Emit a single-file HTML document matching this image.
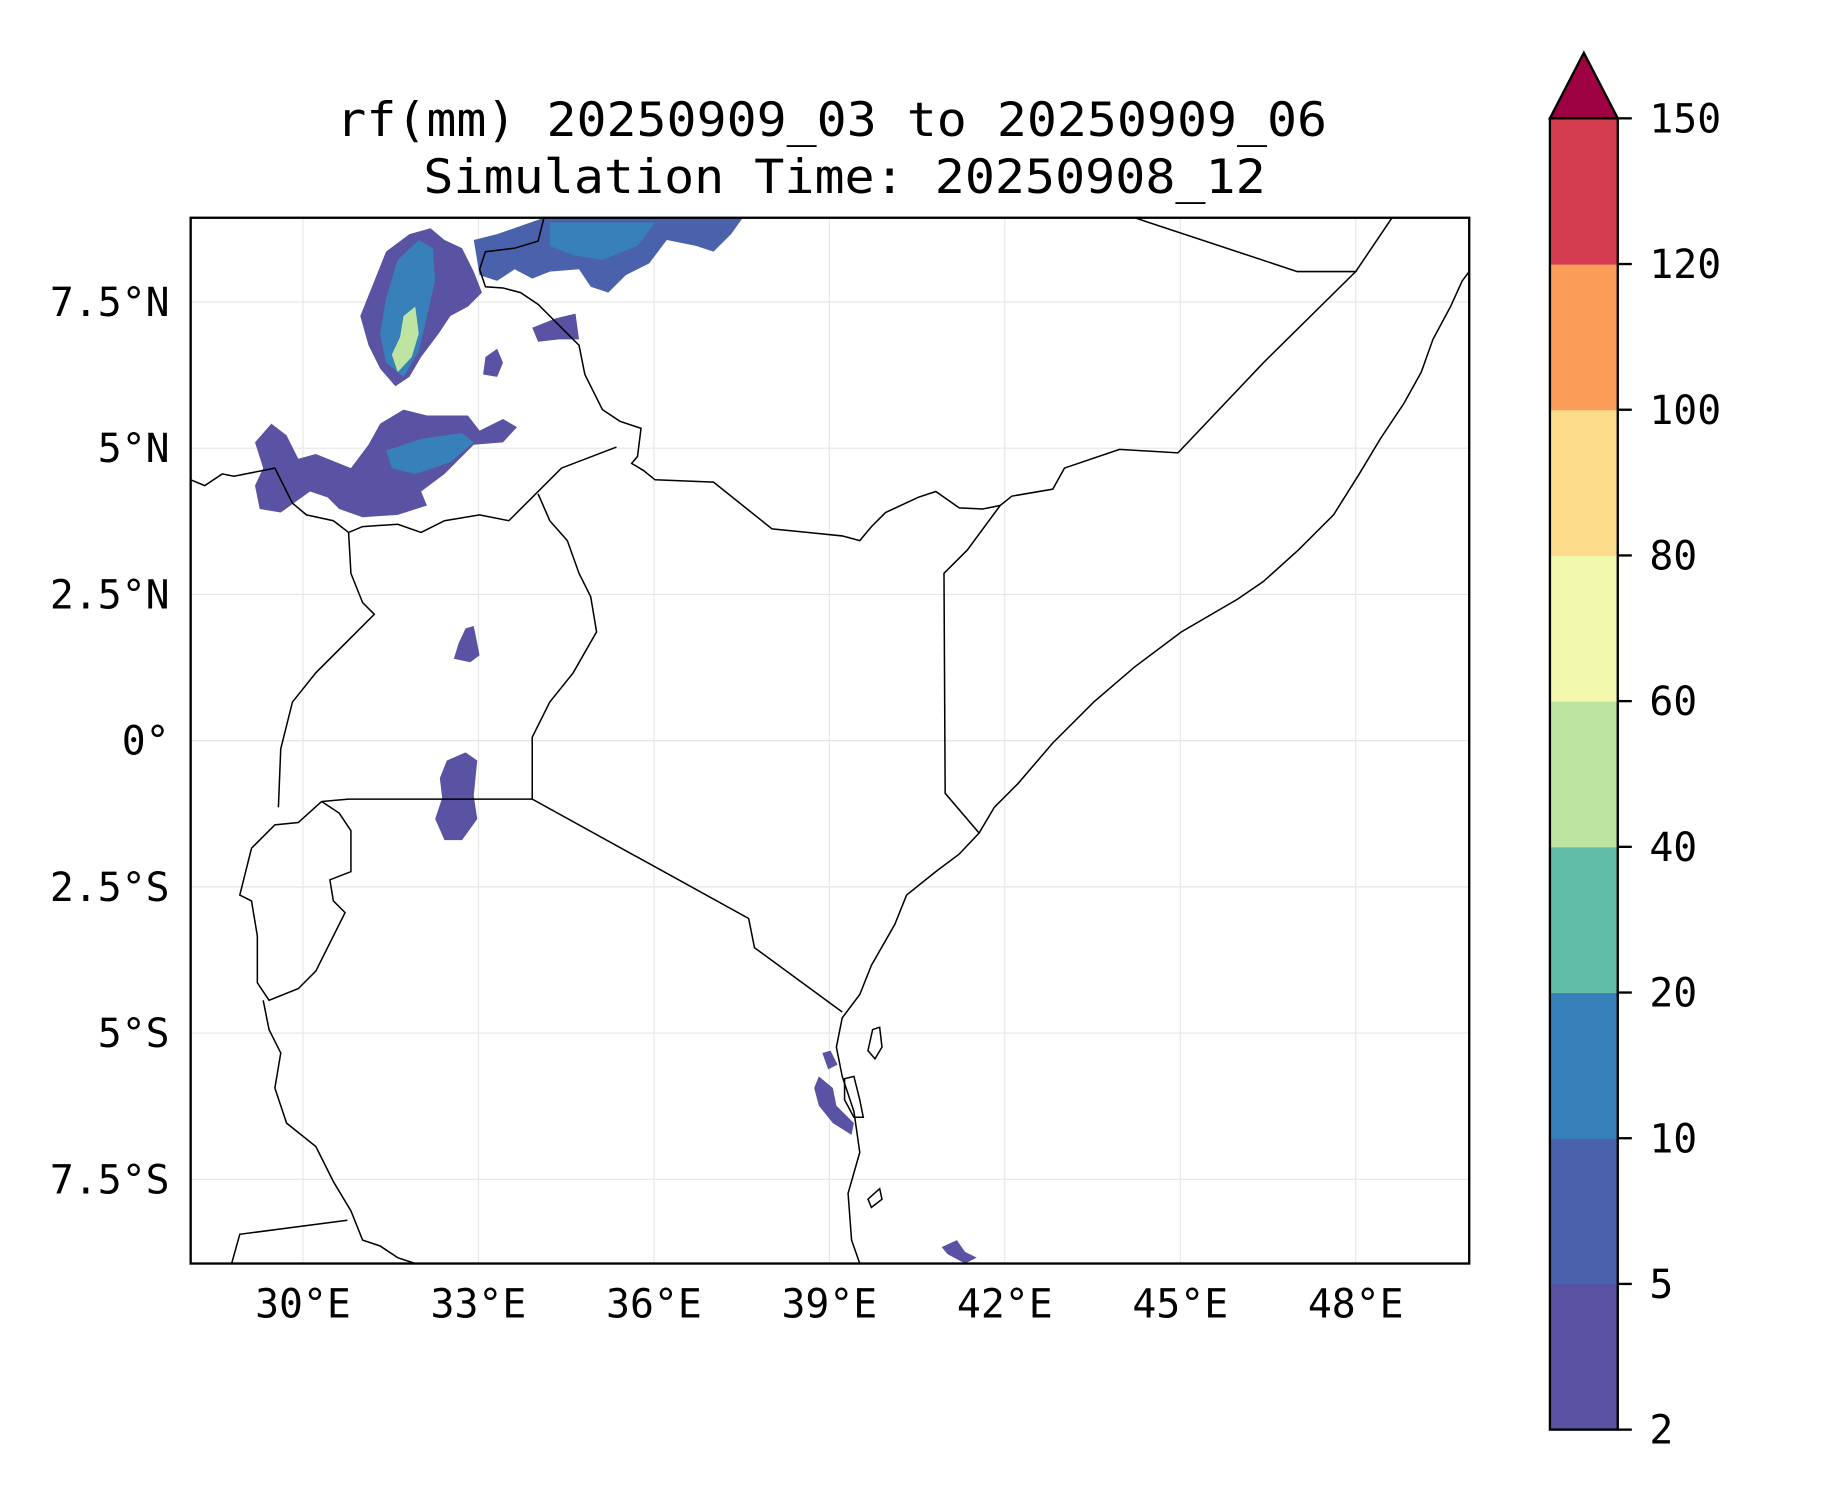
<!DOCTYPE html>
<html><head><meta charset="utf-8"><style>
html,body{margin:0;padding:0;background:#fff;}
svg{display:block;}
text{font-family:"DejaVu Sans Mono","Liberation Mono",monospace;fill:#000;}
</style></head><body>
<svg id="chart" width="1833" height="1500" viewBox="0 0 1567 1282" xmlns="http://www.w3.org/2000/svg">
<rect width="1567" height="1282" fill="#fff"/>
<g>
<text x="711" y="116" font-size="40" text-anchor="middle" textLength="847" lengthAdjust="spacingAndGlyphs">rf(mm) 20250909_03 to 20250909_06</text>
<text x="722" y="165" font-size="40" text-anchor="middle" textLength="720" lengthAdjust="spacingAndGlyphs">Simulation Time: 20250908_12</text>
</g>
<defs><clipPath id="mapclip"><rect x="163" y="186" width="1093" height="894"/></clipPath></defs>
<g id="grid"></g>
<g clip-path="url(#mapclip)">
<g id="rain">
<path fill="#5a52a3" d="M330,215 L350,200 L368,195 L380,205 L395,212 L405,232 L412,250 L400,262 L385,270 L375,285 L360,305 L350,322 L338,330 L325,315 L315,295 L308,270 L318,245 Z"/>
<path fill="#3880b9" d="M340,222 L358,205 L370,212 L372,240 L365,270 L358,300 L345,322 L330,310 L325,285 L330,255 Z"/>
<path fill="#bde4a0" d="M345,270 L355,262 L358,285 L352,305 L340,318 L335,303 L342,288 Z"/>
<path fill="#4a62ab" d="M405,205 L425,200 L465,186 L635,186 L625,200 L610,215 L595,210 L570,205 L555,225 L535,235 L520,250 L505,245 L495,230 L470,232 L455,238 L440,230 L425,240 L410,235 Z"/>
<path fill="#3880b9" d="M470,190 L560,190 L545,210 L515,222 L490,218 L470,210 Z"/>
<path fill="#5a52a3" d="M218,378 L232,362 L245,372 L255,392 L270,388 L300,400 L315,380 L325,362 L345,350 L365,355 L400,355 L410,368 L430,358 L442,365 L430,378 L405,380 L380,405 L360,420 L365,432 L340,440 L310,442 L290,435 L280,425 L265,420 L240,438 L222,435 L218,415 L225,400 Z"/>
<path fill="#3880b9" d="M330,385 L360,375 L395,370 L405,378 L385,395 L355,405 L335,400 Z"/>
<path fill="#5a52a3" d="M398,537 L405,535 L410,560 L402,566 L388,563 L392,550 Z"/>
<path fill="#5a52a3" d="M382,650 L398,643 L408,650 L405,680 L408,700 L395,718 L380,718 L372,700 L378,682 L376,665 Z"/>
<path fill="#5a52a3" d="M700,920 L712,930 L715,945 L730,960 L728,970 L712,960 L700,945 L696,930 Z"/>
<path fill="#5a52a3" d="M455,280 L475,272 L492,268 L495,290 L478,290 L460,292 Z"/>
<path fill="#5a52a3" d="M415,305 L425,298 L430,310 L425,322 L413,320 Z"/>
<path fill="#5a52a3" d="M805,1066 L818,1060 L825,1070 L835,1075 L825,1080 L810,1072 Z"/>
<path fill="#5a52a3" d="M703,900 L710,898 L716,910 L708,914 Z"/>
</g>
<g fill="none" stroke="#000" stroke-width="1.3">
<path d="M1256,232 L1250,240 L1240,262 L1225,290 L1215,318 L1200,345 L1180,375 L1162,405 L1140,440 L1110,470 L1080,497 L1058,512 L1010,540 L970,570 L935,600 L900,635 L870,670 L850,690 L837,712 L820,730 L800,745 L775,765 L765,790 L745,825 L735,850 L720,870 L715,895 L720,920 L730,950 L735,985 L725,1020 L728,1060 L735,1080"/>
<path d="M837,712 L808,678 L807,490 L827,470 L855,432 L865,424 L900,418 L910,400 L957,384 L1007,387 L1080,310 L1159,232 L1109,232 L970,186"/>
<path d="M1159,232 L1190,186"/>
<path d="M855,432 L840,435 L820,434 L800,420 L785,425 L757,438 L745,450 L735,462 L720,458 L690,455 L660,452 L610,412 L560,410 L550,402 L540,396 L545,390 L548,366 L530,360 L515,350 L500,320 L495,295 L485,285 L475,275 L460,260 L445,250 L430,246 L415,245 L410,230 L415,215 L440,212 L460,206 L465,186"/>
<path d="M527,382 L480,400 L435,445 L410,440 L380,445 L360,455 L340,448 L310,450 L298,455 L285,445 L262,440 L250,430 L235,400 L200,407 L190,405 L175,415 L163,410"/>
<path d="M460,422 L470,445 L485,462 L495,490 L505,510 L510,540 L490,575 L470,600 L455,630 L455,683"/>
<path d="M298,455 L300,490 L310,515 L320,525 L300,545 L270,575 L250,600 L240,640 L238,690"/>
<path d="M275,685 L298,683 L455,683 L640,785 L645,810 L720,865"/>
<path d="M275,685 L255,703 L235,705 L215,725 L210,745 L205,765 L215,770 L220,800 L220,840 L230,855 L255,845 L270,830 L285,800 L295,780 L285,770 L282,752 L300,745 L300,710 L290,695 L275,685"/>
<path d="M225,855 L230,880 L240,900 L235,930 L245,960 L270,980 L285,1010 L300,1035 L310,1060 L325,1065 L340,1075 L355,1080"/>
<path d="M198,1080 L205,1055 L297,1043"/>
<path d="M746,880 L752,878 L754,895 L748,905 L742,898 Z"/>
<path d="M722,922 L730,920 L735,940 L738,955 L730,955 L722,940 Z"/>
<path d="M742,1025 L752,1016 L754,1025 L745,1032 Z"/>
</g>
</g>
<rect x="163" y="186" width="1093" height="894" fill="none" stroke="#000" stroke-width="2"/>
<g id="axes"></g>
<g id="colorbar"></g>
<script>
const lonTicks=[30,33,36,39,42,45,48];
const lonLabels=["30°E","33°E","36°E","39°E","42°E","45°E","48°E"];
const latTicks=[7.5,5,2.5,0,-2.5,-5,-7.5];
const latLabels=["7.5°N","5°N","2.5°N","0°","2.5°S","5°S","7.5°S"];
const cbLevels=[2,5,10,20,40,60,80,100,120,150];
const cbColors=["#5a52a3","#4a62ab","#3880b9","#62bda8","#bde4a0","#f2f9ae","#fcdc8a","#f99d59","#d33d4f"];
const cbExtendColor="#9e0142";
const NS="http://www.w3.org/2000/svg";
const xL=163,xR=1256,yT=186,yB=1080;
function xOf(lon){return 259+(lon-30)*50;}
function yOf(lat){return 633-lat*50;}
function mk(tag,attrs,parent){const e=document.createElementNS(NS,tag);for(const k in attrs)e.setAttribute(k,attrs[k]);parent.appendChild(e);return e;}
const grid=document.getElementById('grid'),axes=document.getElementById('axes'),cb=document.getElementById('colorbar');
lonTicks.forEach((v,i)=>{const x=xOf(v);
const g=mk('line',{x1:x,x2:x,y1:yT,y2:yB,stroke:'#e6e6e6','stroke-width':1},grid);


const t=mk('text',{x:x,y:1126,'font-size':34,'text-anchor':'middle'},axes);t.textContent=lonLabels[i];

});
latTicks.forEach((v,i)=>{const y=yOf(v);
const g=mk('line',{x1:xL,x2:xR,y1:y,y2:y,stroke:'#e6e6e6','stroke-width':1},grid);


const t=mk('text',{x:145,y:y+12,'font-size':34,'text-anchor':'end'},axes);t.textContent=latLabels[i];

});
const cx0=1325,cx1=1383,cTop=101,cBot=1222,n=cbColors.length,h=(cBot-cTop)/n;
cbColors.forEach((c,i)=>{const r=mk('rect',{x:cx0,y:cBot-(i+1)*h,width:cx1-cx0,height:h+0.5,fill:c},cb);

});
const tri=mk('polygon',{points:`${cx0},${cTop} ${(cx0+cx1)/2},45 ${cx1},${cTop}`,fill:cbExtendColor,stroke:'#000','stroke-width':2},cb);


const fr=mk('rect',{x:cx0,y:cTop,width:cx1-cx0,height:cBot-cTop,fill:'none',stroke:'#000','stroke-width':2},cb);


cbLevels.forEach((v,i)=>{const y=cBot-i*h;
const tk=mk('line',{x1:cx1,x2:cx1+12,y1:y,y2:y,stroke:'#000','stroke-width':2},cb);


const t=mk('text',{x:1410,y:y+12,'font-size':34},cb);t.textContent=String(v);

});
</script>
</svg>
</body></html>
